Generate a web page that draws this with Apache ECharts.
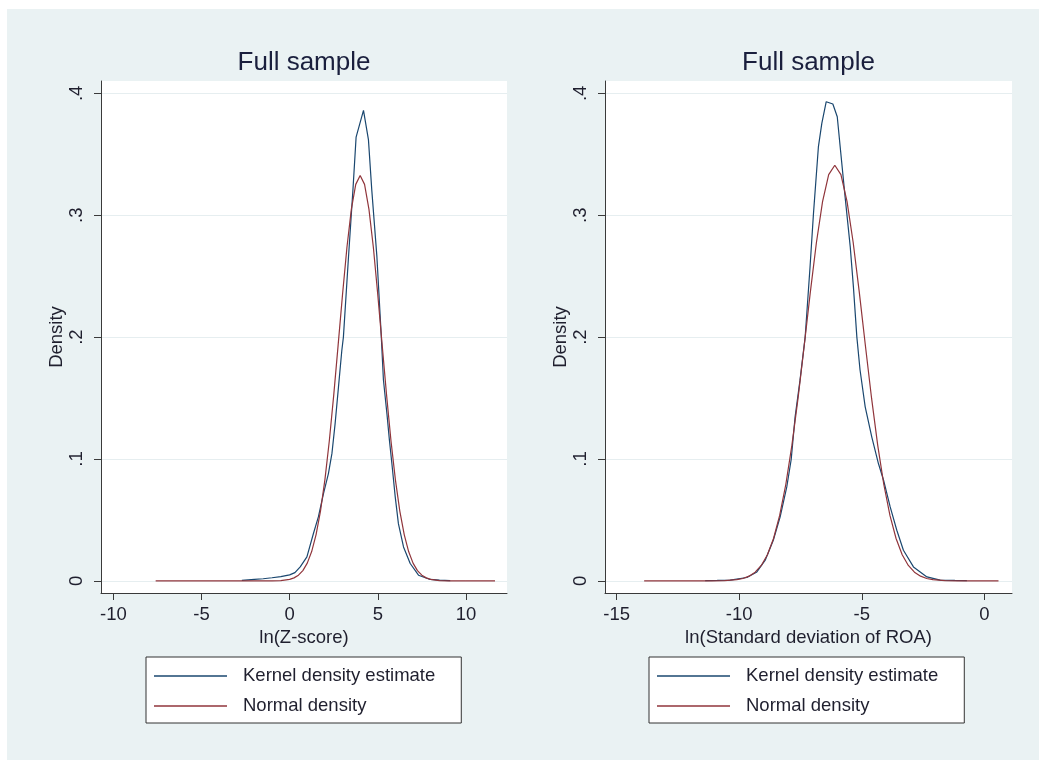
<!DOCTYPE html>
<html><head><meta charset="utf-8">
<script src="https://cdn.jsdelivr.net/npm/echarts@6/dist/echarts.min.js"></script>
<style>html,body{margin:0;padding:0;background:#fff;width:1039px;height:760px;overflow:hidden}
#c{position:absolute;left:7px;top:9px;width:1032px;height:751px}</style>
</head><body><div id="c"></div><script>
// ---- data ----
const seriesNames = ['Kernel density estimate', 'Normal density'];
const panelTitles = ['Full sample', 'Full sample'];
const xAxisNames = ['ln(Z-score)', 'ln(Standard deviation of ROA)'];
const yAxisName = 'Density';

const yTickValues = [0, 0.1, 0.2, 0.3, 0.4];
const yTickLabels = ['0', '.1', '.2', '.3', '.4'];
const zTickValues = [-10, -5, 0, 5, 10];
const zTickLabels = ['-10', '-5', '0', '5', '10'];
const sTickValues = [-15, -10, -5, 0];
const sTickLabels = ['-15', '-10', '-5', '0'];

// Left panel: ln(Z-score)
const zKdeX = [-2.71,-2.0,-1.5,-1.0,-0.5,0.0,0.3,0.6,0.98,1.35,1.63,1.92,2.2,2.4,2.58,2.77,2.96,3.05,3.34,3.59,3.77,4.19,4.47,4.66,4.95,5.19,5.32,5.52,5.66,5.8,5.99,6.17,6.46,6.84,7.31,7.97,8.5,9.11];
const zKdeY = [0.0004,0.0012,0.0018,0.0026,0.0035,0.005,0.0068,0.0115,0.0197,0.0389,0.0525,0.0717,0.0881,0.1046,0.129,0.159,0.189,0.2,0.266,0.3206,0.364,0.386,0.362,0.3206,0.266,0.203,0.165,0.137,0.1155,0.0963,0.069,0.047,0.0279,0.0143,0.0047,0.0012,0.0006,0.0003];
const zNormX = [-7.6,-5,-2.5,-1,-0.5,0,0.25,0.5,0.75,1,1.25,1.5,1.75,2,2.25,2.5,2.75,3,3.25,3.5,3.75,4,4.25,4.5,4.75,5,5.25,5.5,5.75,6,6.25,6.5,6.75,7,7.25,7.5,7.75,8,8.5,9,10,11.65];
const zNormY = [0,0,0,0.0001,0.0003,0.0013,0.0025,0.0047,0.0085,0.0146,0.0241,0.038,0.0573,0.0829,0.1148,0.1522,0.1932,0.2349,0.2735,0.3048,0.3253,0.3325,0.3253,0.3048,0.2735,0.2349,0.1932,0.1522,0.1148,0.0829,0.0573,0.038,0.0241,0.0146,0.0085,0.0047,0.0025,0.0013,0.0003,0.0001,0,0];

// Right panel: ln(Standard deviation of ROA)
const sKdeX = [-11.39,-10.9,-10.37,-9.69,-9.28,-8.94,-8.61,-8.33,-8.06,-7.88,-7.72,-7.52,-7.31,-7.11,-6.97,-6.77,-6.63,-6.45,-6.18,-6.0,-5.88,-5.68,-5.47,-5.34,-5.2,-5.07,-4.86,-4.59,-4.32,-4.11,-3.84,-3.57,-3.3,-2.89,-2.34,-1.8,-1.2,-0.71];
const sKdeY = [0.0003,0.0004,0.0006,0.0028,0.0074,0.017,0.0334,0.0525,0.0771,0.0996,0.1346,0.1647,0.2,0.2577,0.3015,0.356,0.3754,0.3931,0.3912,0.3808,0.356,0.315,0.274,0.241,0.2,0.173,0.1428,0.118,0.0963,0.0826,0.0607,0.0416,0.0252,0.0115,0.0033,0.0006,0.0004,0.0003];
const sNormX = [-13.88,-12,-11.1,-10.6,-10.1,-9.85,-9.6,-9.35,-9.1,-8.85,-8.6,-8.35,-8.1,-7.85,-7.6,-7.35,-7.1,-6.85,-6.6,-6.35,-6.1,-5.85,-5.6,-5.35,-5.1,-4.85,-4.6,-4.35,-4.1,-3.85,-3.6,-3.35,-3.1,-2.85,-2.6,-2.35,-2.1,-1.6,-1.1,0.58];
const sNormY = [0,0,0,0.0002,0.001,0.002,0.0039,0.0072,0.0127,0.0215,0.0348,0.0537,0.0791,0.1114,0.1499,0.1927,0.2367,0.2776,0.3112,0.3333,0.341,0.3333,0.3112,0.2776,0.2367,0.1927,0.1499,0.1114,0.0791,0.0537,0.0348,0.0215,0.0127,0.0072,0.0039,0.002,0.001,0.0002,0,0];

// ---- styling ----
const FONT = 'Liberation Sans, Arial, Helvetica, sans-serif';
const TXT = '#1f1f2e';
const AX = '#3a3a3a';
const BLUE = '#1a476f';
const RED = '#90353b';

function pairs(xs, ys) { return xs.map((x, i) => [x, ys[i]]); }
function lab(values, labels) {
  return v => { for (let i = 0; i < values.length; i++) if (Math.abs(values[i] - v) < 1e-9) return labels[i]; return ''; };
}

function xAxisCfg(gridIndex, min, max, tv, tl, name) {
  return {
    type: 'value', gridIndex, min, max, name, nameLocation: 'middle', nameGap: 32,
    nameTextStyle: { fontFamily: FONT, fontSize: 18.5, color: TXT },
    axisLine: { show: true, onZero: false, lineStyle: { color: AX, width: 1 } },
    axisTick: { show: true, length: 7, customValues: tv, lineStyle: { color: AX, width: 1 } },
    axisLabel: { customValues: tv, formatter: lab(tv, tl), fontFamily: FONT, fontSize: 18.5, color: TXT, margin: 12 },
    splitLine: { show: false }
  };
}
function yAxisCfg(gridIndex) {
  return {
    type: 'value', gridIndex, min: -0.0099, max: 0.4101, name: yAxisName, nameLocation: 'middle', nameGap: 35,
    nameTextStyle: { fontFamily: FONT, fontSize: 18.5, color: TXT },
    axisLine: { show: true, onZero: false, lineStyle: { color: AX, width: 1 } },
    axisTick: { show: true, length: 7, customValues: yTickValues, lineStyle: { color: AX, width: 1 } },
    axisLabel: { customValues: yTickValues, formatter: lab(yTickValues, yTickLabels), rotate: 90, fontFamily: FONT, fontSize: 18.5, color: TXT, margin: 15 },
    splitLine: { show: true, lineStyle: { color: '#e6eef0', width: 1 } }
  };
}
function legendCfg(left) {
  return {
    left, top: 648, orient: 'vertical', data: seriesNames, selectedMode: false,
    icon: 'rect', itemWidth: 73, itemHeight: 1.3, itemGap: 10,
    padding: [9, 26, 7, 8],
    borderColor: '#333', borderWidth: 1, backgroundColor: '#ffffff', borderRadius: 0,
    textStyle: { fontFamily: FONT, fontSize: 18.5, color: TXT, lineHeight: 20, padding: [0, 0, 0, 11] }
  };
}
function lineSeries(name, data, color, xi) {
  return {
    type: 'line', name, data, xAxisIndex: xi, yAxisIndex: xi, showSymbol: false, symbol: 'none',
    smooth: false, lineStyle: { color, width: 1.2 }, itemStyle: { color }, emphasis: { disabled: true }, z: 2
  };
}

const chart = echarts.init(document.getElementById('c'), null, { renderer: 'canvas' });
chart.setOption({
  animation: false,
  backgroundColor: '#eaf2f3',
  title: [
    { text: panelTitles[0], left: 297, top: 41, textAlign: 'center', padding: 0, textStyle: { fontFamily: FONT, fontSize: 26, fontWeight: 'normal', color: '#1a1f3d' } },
    { text: panelTitles[1], left: 801.5, top: 41, textAlign: 'center', padding: 0, textStyle: { fontFamily: FONT, fontSize: 26, fontWeight: 'normal', color: '#1a1f3d' } }
  ],
  grid: [
    { left: 94, top: 72, width: 406, height: 512, show: true, backgroundColor: '#ffffff', borderWidth: 0 },
    { left: 598, top: 72, width: 407, height: 512, show: true, backgroundColor: '#ffffff', borderWidth: 0 }
  ],
  xAxis: [
    xAxisCfg(0, -10.7, 12.33, zTickValues, zTickLabels, xAxisNames[0]),
    xAxisCfg(1, -15.478, 1.131, sTickValues, sTickLabels, xAxisNames[1])
  ],
  yAxis: [yAxisCfg(0), yAxisCfg(1)],
  legend: [legendCfg(139), legendCfg(642)],
  series: [
    lineSeries(seriesNames[0], pairs(zKdeX, zKdeY), BLUE, 0),
    lineSeries(seriesNames[1], pairs(zNormX, zNormY), RED, 0),
    lineSeries(seriesNames[0], pairs(sKdeX, sKdeY), BLUE, 1),
    lineSeries(seriesNames[1], pairs(sNormX, sNormY), RED, 1)
  ]
});
</script></body></html>
